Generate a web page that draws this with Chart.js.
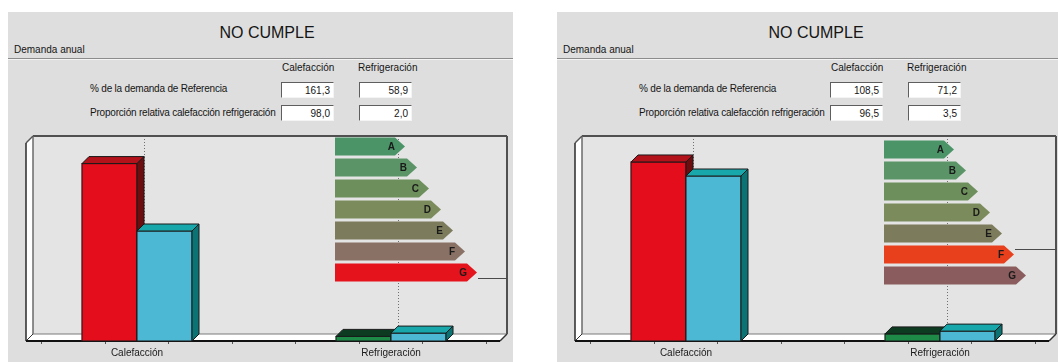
<!DOCTYPE html>
<html lang="es">
<head>
<meta charset="utf-8">
<title>Demanda anual - NO CUMPLE</title>
<script src="https://cdn.jsdelivr.net/npm/chart.js@4.4.0/dist/chart.umd.min.js"></script>
<style>
    body { margin: 0; width: 1058px; height: 362px; background: #fff; overflow: hidden; position: relative;
           font-family: "Liberation Sans", Arial, sans-serif; color: #151515; }
    .panel { position: absolute; top: 12px; width: 505px; height: 350px; background: #dedede; }
    .panel div, .panel canvas { position: absolute; }
    .titulo { left: 207px; top: 11px; width: 104px; text-align: center; font-size: 16px; line-height: 20px; white-space: nowrap; }
    .texto { font-size: 10px; line-height: 12px; white-space: nowrap; }
    .fila { font-size: 10px; line-height: 12px; white-space: nowrap; letter-spacing: -0.2px; }
    .linea { left: 0; top: 46px; width: 100%; height: 0; border-top: 1px solid #8c8c8c; border-bottom: 1px solid #f4f4f4; }
    .caja { width: 48px; height: 14px; background: #fff; border-top: 1px solid #5e5e5e; border-left: 1px solid #5e5e5e;
            border-right: 1px solid #f4f4f4; border-bottom: 1px solid #f4f4f4; font-size: 10px; line-height: 15px;
            text-align: right; padding-right: 3px; }
</style>
</head>
<body>
<script>
const categorias = ['Calefacción', 'Refrigeración'];
const filas = ['% de la demanda de Referencia', 'Proporción relativa calefacción refrigeración'];
const clases = ['A', 'B', 'C', 'D', 'E', 'F', 'G'];
const longitudClase = [5, 6, 7, 8, 9, 10, 11];

// panel izquierdo
const demandaRefIzq = [161.3, 58.9];
const proporcionIzq = [98.0, 2.0];
const objetoIzq = [161.3, 4.2];
const referenciaIzq = [100, 7.2];
const maximoIzq = 180;
const marcadorIzq = 6.24;

// panel derecho
const demandaRefDer = [108.5, 71.2];
const proporcionDer = [96.5, 3.5];
const objetoDer = [108.5, 4.3];
const referenciaDer = [100, 6.0];
const maximoDer = 120;
const marcadorDer = 4.74;

const coloresClaseIzq = ['#4a9468', '#5b9467', '#6d8f5c', '#7b8b5c', '#7c7b5b', '#8a7165', '#e5131c'];
const coloresClaseDer = ['#4a9468', '#5b9467', '#6d8f5c', '#7b8b5c', '#7c7b5b', '#e8401d', '#8a5c5d'];

const PROF = 7;
const PUNTA = 10;

Chart.defaults.font.family = '"Liberation Sans", Arial, sans-serif';
Chart.defaults.font.size = 10;
Chart.defaults.color = '#1a1a1a';

function poligono(ctx, puntos) {
    ctx.beginPath();
    puntos.forEach(([px, py], i) => i ? ctx.lineTo(px, py) : ctx.moveTo(px, py));
    ctx.closePath();
}

function segmento(ctx, x1, y1, x2, y2, color, ancho) {
    ctx.strokeStyle = color;
    ctx.lineWidth = ancho;
    ctx.beginPath();
    ctx.moveTo(x1, y1);
    ctx.lineTo(x2, y2);
    ctx.stroke();
}

// paredes, suelo y barras en 3D
const marco3D = {
    id: 'marco3D',
    beforeDatasetsDraw(chart) {
        const { ctx, chartArea: a, scales: { x } } = chart;
        const d = PROF;
        ctx.save();
        ctx.fillStyle = '#e4e4e4';
        ctx.fillRect(a.left + d, a.top - d, a.right - a.left, a.bottom - a.top);
        ctx.fillStyle = '#ffffff';
        poligono(ctx, [[a.left, a.top], [a.left + d, a.top - d], [a.left + d, a.bottom - d], [a.left, a.bottom]]);
        ctx.fill();
        poligono(ctx, [[a.left, a.bottom], [a.left + d, a.bottom - d], [a.right + d, a.bottom - d], [a.right, a.bottom]]);
        ctx.fill();

        ctx.setLineDash([1, 2]);
        categorias.forEach((c, i) => {
            const px = Math.round(x.getPixelForValue(i)) + d + 0.5;
            segmento(ctx, px, a.top - d, px, a.bottom - d, '#707070', 1);
        });
        ctx.setLineDash([]);

        segmento(ctx, a.left + d, a.top - d, a.right + d, a.top - d, '#505050', 2);
        segmento(ctx, a.right + d, a.top - d, a.right + d, a.bottom - d, '#505050', 2);
        segmento(ctx, a.left + d, a.top - d, a.left + d, a.bottom - d, '#6a6a6a', 1.5);
        segmento(ctx, a.left + d, a.bottom - d, a.right + d, a.bottom - d, '#7a7a7a', 1);
        segmento(ctx, a.left, a.top, a.left + d, a.top - d, '#555', 1.5);
        segmento(ctx, a.left, a.top, a.left, a.bottom, '#2a2a2a', 1.5);
        segmento(ctx, a.left, a.bottom, a.left + d, a.bottom - d, '#333', 1);
        segmento(ctx, a.right, a.bottom, a.right + d, a.bottom - d, '#333', 1.5);
        segmento(ctx, a.left, a.bottom, a.right, a.bottom, '#111', 2);
        ctx.restore();
    },
    afterDatasetsDraw(chart) {
        const { ctx } = chart;
        const d = PROF;
        ctx.save();
        ctx.strokeStyle = '#1a1a1a';
        ctx.lineWidth = 1;
        chart.data.datasets.forEach((ds, di) => {
            chart.getDatasetMeta(di).data.forEach((bar, i) => {
                const { x, y, base, width } = bar.getProps(['x', 'y', 'base', 'width'], true);
                const x0 = x - width / 2;
                const x1 = x + width / 2;
                const elegir = (c) => Array.isArray(c) ? c[i] : c;
                ctx.fillStyle = elegir(ds.backgroundColor);
                ctx.fillRect(x0, y, x1 - x0, base - y);
                ctx.strokeRect(x0, y, x1 - x0, base - y);
                ctx.fillStyle = elegir(ds.caraSuperior);
                poligono(ctx, [[x0, y], [x0 + d, y - d], [x1 + d, y - d], [x1, y]]);
                ctx.fill();
                ctx.stroke();
                ctx.fillStyle = elegir(ds.caraLateral);
                poligono(ctx, [[x1, y], [x1 + d, y - d], [x1 + d, base - d], [x1, base]]);
                ctx.fill();
                ctx.stroke();
            });
        });
        ctx.restore();
    }
};

// flechas de la escala de clases A-G
const flechas = {
    id: 'flechas',
    afterDatasetsDraw(chart, args, opts) {
        const { ctx, scales: { y } } = chart;
        const meta = chart.getDatasetMeta(0);
        ctx.save();
        meta.data.forEach((bar, i) => {
            const { x, y: yc, height } = bar.getProps(['x', 'y', 'height'], true);
            ctx.fillStyle = bar.options.backgroundColor;
            poligono(ctx, [[x, yc - height / 2], [x + PUNTA, yc], [x, yc + height / 2]]);
            ctx.fill();
            ctx.fillStyle = '#1a1a1a';
            ctx.font = 'bold 10px "Liberation Sans", Arial, sans-serif';
            ctx.textAlign = 'right';
            ctx.textBaseline = 'middle';
            ctx.fillText(chart.data.labels[i], x, yc + 1);
        });
        const marcada = meta.data[Math.round(opts.marcador)];
        const ym = Math.round(y.getPixelForValue(opts.marcador)) + 0.5;
        segmento(ctx, marcada.x + PUNTA + 1, ym, chart.width, ym, '#4a4a4a', 1);
        ctx.restore();
    }
};

function crearTexto(panel, clase, texto, left, top) {
    const div = document.createElement('div');
    div.className = clase;
    div.textContent = texto;
    div.style.left = left + 'px';
    div.style.top = top + 'px';
    panel.append(div);
    return div;
}

function crearPanel(left, demandaRef, proporcion, objeto, referencia, maximo, coloresClase, marcador, topFlechas) {
    const panel = document.createElement('div');
    panel.className = 'panel';
    panel.style.left = left + 'px';
    document.body.append(panel);

    crearTexto(panel, 'titulo', 'NO CUMPLE', 207, 11);
    crearTexto(panel, 'texto', 'Demanda anual', 6, 32);
    crearTexto(panel, 'linea', '', 0, 46);
    crearTexto(panel, 'texto', categorias[0], 274, 50);
    crearTexto(panel, 'texto', categorias[1], 350, 50);

    const formato = (v) => v.toFixed(1).replace('.', ',');
    [demandaRef, proporcion].forEach((valores, f) => {
        crearTexto(panel, 'fila', filas[f], 82, 71 + f * 24);
        crearTexto(panel, 'caja', formato(valores[0]), 273, 70 + f * 23);
        crearTexto(panel, 'caja', formato(valores[1]), 351, 70 + f * 23);
    });

    const lienzo = document.createElement('canvas');
    lienzo.width = 505;
    lienzo.height = 237;
    lienzo.style.left = '0px';
    lienzo.style.top = '113px';
    panel.append(lienzo);

    new Chart(lienzo, {
        type: 'bar',
        data: {
            datasets: [{
                label: 'Edificio objeto',
                data: objeto.map((v, i) => ({ x: i, y: v })),
                backgroundColor: ['#e30d1c', '#1d8a48'],
                caraSuperior: ['#b3121b', '#0c3b22'],
                caraLateral: ['#6d0d10', '#06301a']
            }, {
                label: 'Edificio de referencia',
                data: referencia.map((v, i) => ({ x: i, y: v })),
                backgroundColor: '#4db8d3',
                caraSuperior: '#18a8ac',
                caraLateral: '#0b7373'
            }]
        },
        options: {
            responsive: false,
            animation: false,
            layout: { padding: { top: 18, left: 18, right: 13, bottom: 0 } },
            datasets: { bar: { barThickness: 55 } },
            plugins: { legend: { display: false }, tooltip: { enabled: false } },
            scales: {
                x: {
                    type: 'linear',
                    min: -0.437,
                    max: 1.429,
                    offset: false,
                    afterFit: (s) => { s.height = 21; },
                    border: { display: false },
                    grid: { drawOnChartArea: false, tickLength: 3, color: '#555' },
                    ticks: {
                        stepSize: 0.25,
                        includeBounds: false,
                        autoSkip: false,
                        maxRotation: 0,
                        padding: 3,
                        callback: (v) => Number.isInteger(v) ? categorias[v] : ''
                    }
                },
                y: { display: false, min: 0, max: maximo }
            }
        },
        plugins: [marco3D]
    });

    const escala = document.createElement('canvas');
    escala.width = 172;
    escala.height = 147;
    escala.style.left = '327px';
    escala.style.top = topFlechas + 'px';
    panel.append(escala);

    new Chart(escala, {
        type: 'bar',
        data: {
            labels: clases,
            datasets: [{ data: longitudClase, backgroundColor: coloresClase }]
        },
        options: {
            indexAxis: 'y',
            responsive: false,
            animation: false,
            layout: { padding: { right: 28 } },
            categoryPercentage: 1,
            barPercentage: 0.86,
            plugins: { legend: { display: false }, tooltip: { enabled: false }, flechas: { marcador } },
            scales: {
                x: { display: false, min: 0, max: 12 },
                y: { display: false }
            }
        },
        plugins: [flechas]
    });
}

crearPanel(8, demandaRefIzq, proporcionIzq, objetoIzq, referenciaIzq, maximoIzq, coloresClaseIzq, marcadorIzq, 124);
crearPanel(557, demandaRefDer, proporcionDer, objetoDer, referenciaDer, maximoDer, coloresClaseDer, marcadorDer, 127);
</script>
</body>
</html>
